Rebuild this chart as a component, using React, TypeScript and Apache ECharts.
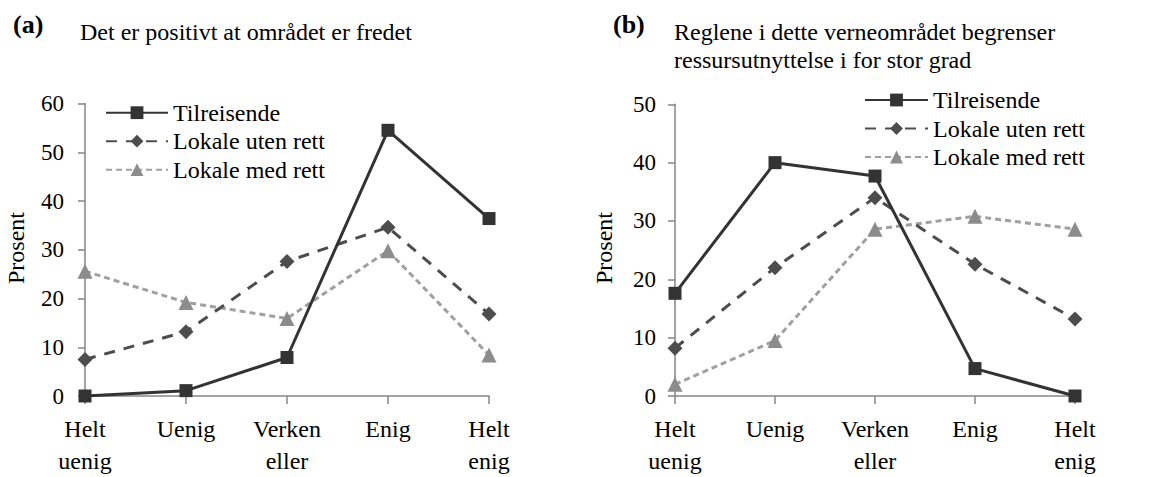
import React, { useEffect, useRef } from "react";
import * as echarts from "echarts";

const categories = ["Helt\nuenig", "Uenig", "Verken\neller", "Enig", "Helt\nenig"];
const seriesNames = ["Tilreisende", "Lokale uten rett", "Lokale med rett"];

const leftTilreisende = [0, 1.1, 7.9, 54.5, 36.4];
const leftUten = [7.5, 13.2, 27.6, 34.6, 16.8];
const leftMed = [25.6, 19.2, 15.9, 29.8, 8.4];

const rightTilreisende = [17.6, 40.0, 37.7, 4.7, 0];
const rightUten = [8.2, 22.0, 34.0, 22.6, 13.2];
const rightMed = [2.0, 9.5, 28.6, 30.8, 28.6];

const leftTicks = { min: 0, max: 60, interval: 10 };
const rightTicks = { min: 0, max: 50, interval: 10 };

const FONT = '"Liberation Serif", "Times New Roman", serif';

const styles = [
  { color: "#333333", symbol: "rect", symbolSize: 13, type: "solid" as any, width: 3, z: 4 },
  { color: "#4d4d4d", symbol: "diamond", symbolSize: 15, type: [11, 9] as any, width: 3, z: 3 },
  { color: "#a0a0a0", symbol: "triangle", symbolSize: 15, type: [6, 4] as any, width: 3, z: 2, markerColor: "#8c8c8c" },
];

function makeSeries(data: number[][], axisIndex: number) {
  return data.map((d, i) => {
    const s = styles[i];
    return {
      name: seriesNames[i],
      type: "line",
      xAxisIndex: axisIndex,
      yAxisIndex: axisIndex,
      data: d,
      symbol: s.symbol,
      symbolSize: s.symbolSize,
      z: s.z,
      lineStyle: { color: s.color, width: s.width, type: s.type },
      itemStyle: { color: (s as any).markerColor || s.color, borderWidth: 0 },
    };
  });
}

export default function App() {
  const ref = useRef<HTMLDivElement>(null);
  useEffect(() => {
    if (!ref.current) return;
    const chart = echarts.init(ref.current, undefined, { renderer: "svg" });
    const axisLineStyle = { color: "#868686", width: 1.5 };
    const xAxisCommon = {
      type: "category",
      data: categories,
      boundaryGap: false,
      axisLine: { lineStyle: axisLineStyle },
      axisTick: { show: true, length: 8, lineStyle: axisLineStyle },
      axisLabel: { color: "#000", fontFamily: FONT, fontSize: 24, lineHeight: 32, margin: 17, interval: 0 },
      splitLine: { show: false },
    };
    const yAxisCommon = {
      type: "value",
      axisLine: { show: true, lineStyle: axisLineStyle },
      axisTick: { show: true, length: 7, lineStyle: axisLineStyle },
      splitLine: { show: false },
    };
    const legendCommon = {
      orient: "vertical",
      data: seriesNames,
      itemWidth: 62,
      itemHeight: 16,
      itemGap: 0.5,
      padding: 0,
      selectedMode: false,
      textStyle: { color: "#000", fontFamily: FONT, fontSize: 24, lineHeight: 28 },
    };
    chart.setOption({
      animation: false,
      backgroundColor: "#fff",
      textStyle: { fontFamily: FONT },
      grid: [
        { left: 85, top: 103.5, width: 404, height: 298.5 },
        { left: 675, top: 104.3, width: 400, height: 299.7 },
      ],
      xAxis: [
        { ...xAxisCommon, gridIndex: 0 },
        { ...xAxisCommon, gridIndex: 1 },
      ],
      yAxis: [
        {
          ...yAxisCommon,
          gridIndex: 0,
          ...leftTicks,
          axisLabel: { color: "#000", fontFamily: FONT, fontSize: 23, margin: 21 },
        },
        {
          ...yAxisCommon,
          gridIndex: 1,
          ...rightTicks,
          axisLabel: { color: "#000", fontFamily: FONT, fontSize: 23, margin: 19 },
        },
      ],
      legend: [
        { ...legendCommon, left: 105, top: 98.7 },
        { ...legendCommon, left: 864, itemWidth: 63, top: 86 },
      ],
      series: [
        ...makeSeries([leftTilreisende, leftUten, leftMed], 0),
        ...makeSeries([rightTilreisende, rightUten, rightMed], 1),
      ],
      graphic: [
        { type: "text", x: 13, y: 24, style: { text: "(a)", fontFamily: FONT, fontSize: 26, fontWeight: "bold", fill: "#000", verticalAlign: "middle" } },
        { type: "text", x: 80, y: 32, style: { text: "Det er positivt at området er fredet", fontFamily: FONT, fontSize: 24, fill: "#000", verticalAlign: "middle" } },
        { type: "text", x: 613, y: 24, style: { text: "(b)", fontFamily: FONT, fontSize: 26, fontWeight: "bold", fill: "#000", verticalAlign: "middle" } },
        { type: "text", x: 674, y: 32, style: { text: "Reglene i dette verneområdet begrenser", fontFamily: FONT, fontSize: 24, fill: "#000", verticalAlign: "middle" } },
        { type: "text", x: 674, y: 60, style: { text: "ressursutnyttelse i for stor grad", fontFamily: FONT, fontSize: 24, fill: "#000", verticalAlign: "middle" } },
        { type: "text", x: 16, y: 248, rotation: Math.PI / 2, style: { text: "Prosent", fontFamily: FONT, fontSize: 24, fill: "#000", align: "center", verticalAlign: "middle" } },
        { type: "text", x: 604, y: 248, rotation: Math.PI / 2, style: { text: "Prosent", fontFamily: FONT, fontSize: 24, fill: "#000", align: "center", verticalAlign: "middle" } },
      ],
    });
    return () => chart.dispose();
  }, []);
  return (
    <div
      ref={ref}
      style={{ position: "fixed", left: 0, top: 0, width: 1153, height: 477, background: "#fff" }}
    />
  );
}
